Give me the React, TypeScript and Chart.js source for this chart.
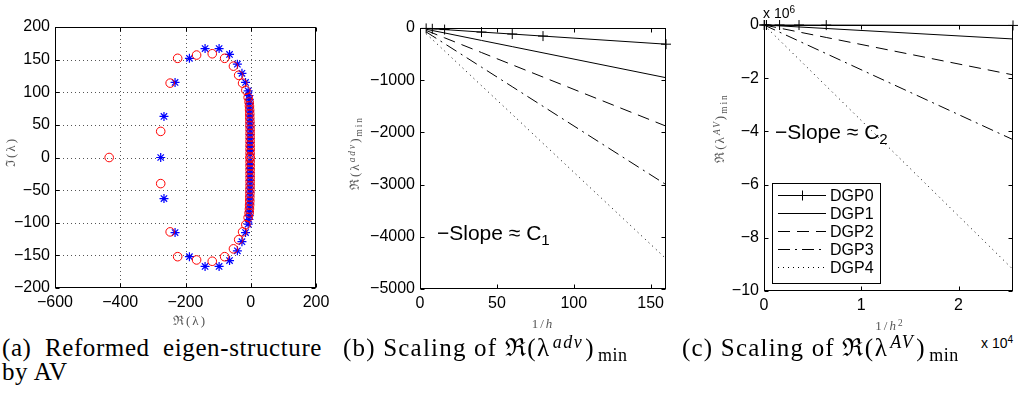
import React, { useEffect, useRef } from "react";
import { Chart, registerables } from "chart.js";

Chart.register(...registerables);

const SANS = "'Liberation Sans', Arial, Helvetica, sans-serif";
const SERIF = "'Liberation Serif', 'Times New Roman', serif";

// ---------- Panel (a): eigenvalues reformed by AV ----------
const aCircleRe = [
  -434, -276, -276, -247, -247, -224, -224, -166, -166, -118, -118, -80, -80, -53, -53,
  -37, -37, -25, -25, -15, -15, -8, -8,
  -5, -5, -4, -4, -3.5, -3.5, -3, -3, -3, -3, -2.5, -2.5, -2.5, -2.5,
  -2, -2, -2, -2, -2, -2, -2, -2, -2, -2, -2, -2, -2, -2, -2, -2,
];
const aCircleIm = [
  0, 40, -40, 114, -114, 152, -152, 157, -157, 159, -159, 152, -152, 140, -140,
  126, -126, 114, -114, 103, -103, 92, -92,
  85, -85, 79, -79, 73, -73, 67, -67, 61, -61, 55, -55, 49, -49,
  43, -43, 37, -37, 31, -31, 25, -25, 19, -19, 13, -13, 7, -7, 1, -1,
];
const aStarRe = [
  -276, -266, -266, -232, -232, -188, -188, -140, -140, -97, -97, -65, -65, -41, -41,
  -27, -27, -16, -16, -8, -8,
  -5.5, -5.5, -4.5, -4.5, -4, -4, -3.5, -3.5, -3, -3, -3, -3, -2.5, -2.5, -2.5, -2.5,
  -2, -2, -2, -2, -2, -2, -2, -2, -2, -2, -2, -2, -2, -2, -2, -2,
];
const aStarIm = [
  0, 63, -63, 115, -115, 152, -152, 167, -167, 167, -167, 158, -158, 143, -143,
  129, -129, 115, -115, 102, -102,
  95, -95, 89, -89, 83, -83, 77, -77, 71, -71, 65, -65, 59, -59, 53, -53,
  47, -47, 41, -41, 35, -35, 29, -29, 23, -23, 17, -17, 11, -11, 5, -5,
];
const aTicksX = [-600, -400, -200, 0, 200];
const aTicksY = [-200, -150, -100, -50, 0, 50, 100, 150, 200];

// ---------- Panel (b): Re(lambda^adv)_min vs 1/h ----------
const invH = [4, 8, 16, 40, 60, 80, 160];
const bDGP0 = [-8, -15, -30, -78, -116, -155, -310];
const bDGP1 = [-24, -48, -95, -238, -357, -476, -952];
const bDGP2 = [-47, -94, -188, -470, -705, -940, -1880];
const bDGP3 = [-75, -150, -300, -750, -1125, -1500, -3000];
const bDGP4 = [-110, -220, -440, -1105, -1655, -2210, -4420];
const bTicksX = [0, 50, 100, 150];
const bTicksY = [-5000, -4000, -3000, -2000, -1000, 0];

// ---------- Panel (c): Re(lambda^AV)_min vs 1/h^2 ----------
const invH2 = [16, 64, 256, 1600, 3600, 6400, 25600];
const cDGP0 = [-10, -40, -160, -1000, -2300, -4000, -16000];
const cDGP1 = [-330, -1310, -5250, -32800, -73800, -131000, -525000];
const cDGP2 = [-1170, -4690, -18750, -117000, -264000, -469000, -1875000];
const cDGP3 = [-2690, -10800, -43100, -269000, -606000, -1077000, -4310000];
const cDGP4 = [-5740, -23000, -91900, -574000, -1292000, -2297000, -9190000];
const cTicksX = [0, 10000, 20000];
const cTicksY = [-10000000, -8000000, -6000000, -4000000, -2000000, 0];

const seriesNames = ["DGP0", "DGP1", "DGP2", "DGP3", "DGP4"];
const seriesDash = [[], [], [12, 7], [12, 5, 2, 5], [1, 4]];
const seriesMarker = ["cross", false, false, false, false];

const minus = (s: string) => s.replace(/-/g, "\u2212");

const matlabFrame = {
  id: "matlabFrame",
  beforeDatasetsDraw(chart: any, _args: any, opts: any) {
    if (!opts || !opts.grid) return;
    const { ctx, chartArea: a, scales } = chart;
    const x = scales.x, y = scales.y;
    ctx.save();
    ctx.strokeStyle = "#555";
    ctx.lineWidth = 1;
    ctx.setLineDash([1, 3]);
    for (const t of x.ticks) {
      const px = Math.round(x.getPixelForValue(t.value)) + 0.5;
      if (px <= a.left + 2 || px >= a.right - 2) continue;
      ctx.beginPath();
      ctx.moveTo(px, a.top);
      ctx.lineTo(px, a.bottom);
      ctx.stroke();
    }
    for (const t of y.ticks) {
      const py = Math.round(y.getPixelForValue(t.value)) + 0.5;
      if (py <= a.top + 2 || py >= a.bottom - 2) continue;
      ctx.beginPath();
      ctx.moveTo(a.left, py);
      ctx.lineTo(a.right, py);
      ctx.stroke();
    }
    ctx.restore();
  },
  afterDraw(chart: any) {
    const { ctx, chartArea: a, scales } = chart;
    const x = scales.x, y = scales.y;
    const L = Math.round(a.left) + 0.5, R = Math.round(a.right) - 0.5;
    const T = Math.round(a.top) + 0.5, B = Math.round(a.bottom) - 0.5;
    ctx.save();
    ctx.strokeStyle = "#000";
    ctx.lineWidth = 1;
    ctx.setLineDash([]);
    ctx.strokeRect(L, T, R - L, B - T);
    const tl = 4;
    ctx.beginPath();
    for (const t of x.ticks) {
      const px = Math.round(x.getPixelForValue(t.value)) + 0.5;
      ctx.moveTo(px, B);
      ctx.lineTo(px, B - tl);
      ctx.moveTo(px, T);
      ctx.lineTo(px, T + tl);
    }
    for (const t of y.ticks) {
      const py = Math.round(y.getPixelForValue(t.value)) + 0.5;
      ctx.moveTo(L, py);
      ctx.lineTo(L + tl, py);
      ctx.moveTo(R, py);
      ctx.lineTo(R - tl, py);
    }
    ctx.stroke();
    ctx.restore();
  },
};

const boxLegend = {
  id: "boxLegend",
  afterDraw(chart: any, _args: any, opts: any) {
    if (!opts || !opts.show) return;
    const { ctx } = chart;
    const left = opts.left, top = opts.top, w = opts.width, h = opts.height;
    ctx.save();
    ctx.fillStyle = "#fff";
    ctx.fillRect(left, top, w, h);
    ctx.strokeStyle = "#000";
    ctx.lineWidth = 1;
    ctx.setLineDash([]);
    ctx.strokeRect(left + 0.5, top + 0.5, w, h);
    ctx.font = `16px ${SANS}`;
    ctx.textBaseline = "middle";
    ctx.fillStyle = "#000";
    chart.data.datasets.forEach((ds: any, i: number) => {
      const cy = Math.round(top + opts.firstRow + i * opts.rowHeight) + 0.5;
      const x0 = left + 6, x1 = left + 54;
      ctx.strokeStyle = "#000";
      ctx.lineWidth = 1;
      ctx.setLineDash(ds.borderDash || []);
      ctx.beginPath();
      ctx.moveTo(x0, cy);
      ctx.lineTo(x1, cy);
      ctx.stroke();
      ctx.setLineDash([]);
      if (ds.pointStyle === "cross") {
        const cx = Math.round((x0 + x1) / 2) + 0.5;
        ctx.beginPath();
        ctx.moveTo(cx - 5, cy);
        ctx.lineTo(cx + 5, cy);
        ctx.moveTo(cx, cy - 5);
        ctx.lineTo(cx, cy + 5);
        ctx.stroke();
      }
      ctx.fillText(ds.label, left + 58, cy + 1);
    });
    ctx.restore();
  },
};

function axis(min: number, max: number, tickVals: number[], size: number, fmt: (v: number) => string) {
  return {
    type: "linear",
    min,
    max,
    grid: { display: false, drawTicks: false },
    border: { display: false },
    afterBuildTicks: (s: any) => {
      s.ticks = tickVals.map((v) => ({ value: v }));
    },
    afterFit: (s: any) => {
      if (s.isHorizontal()) s.height = size;
      else s.width = size;
    },
    ticks: {
      font: { family: SANS, size: 16 },
      color: "#000",
      padding: 5,
      maxRotation: 0,
      autoSkip: false,
      callback: (v: any) => fmt(Number(v)),
    },
  };
}

function seriesSets(xs: number[], ys: number[][]) {
  return ys.map((vals, i) => ({
    label: seriesNames[i],
    data: xs.map((x, j) => ({ x, y: vals[j] })),
    showLine: true,
    borderColor: "#000",
    borderWidth: 1,
    borderDash: seriesDash[i],
    pointStyle: seriesMarker[i] || "circle",
    pointRadius: seriesMarker[i] ? 5 : 0,
    pointBorderColor: "#000",
    pointBorderWidth: 1,
    backgroundColor: "#000",
    tension: 0,
    clip: false,
  }));
}

function ChartCanvas({ config, left, top, width, height }: any) {
  const ref = useRef<HTMLCanvasElement>(null);
  useEffect(() => {
    const chart = new Chart(ref.current as HTMLCanvasElement, config);
    return () => chart.destroy();
  }, []);
  return (
    <canvas
      ref={ref}
      width={width}
      height={height}
      style={{ position: "absolute", left, top, width, height }}
    />
  );
}

const baseOptions = (padding: any, scales: any, plugins: any) => ({
  responsive: false,
  animation: false,
  devicePixelRatio: 1,
  layout: { padding },
  scales,
  plugins: {
    legend: { display: false },
    tooltip: { enabled: false },
    ...plugins,
  },
});

const configA = {
  type: "scatter",
  data: {
    datasets: [
      {
        label: "circles",
        data: aCircleRe.map((x, i) => ({ x, y: aCircleIm[i] })),
        pointStyle: "circle",
        pointRadius: 4.3,
        pointBorderColor: "#ff0000",
        pointBackgroundColor: "rgba(0,0,0,0)",
        pointBorderWidth: 1,
      },
      {
        label: "stars",
        data: aStarRe.map((x, i) => ({ x, y: aStarIm[i] })),
        pointStyle: "star",
        pointRadius: 4.5,
        pointBorderColor: "#0000ff",
        pointBackgroundColor: "rgba(0,0,0,0)",
        pointBorderWidth: 1.2,
      },
    ],
  },
  options: baseOptions(
    { left: 0, top: 27, right: 24, bottom: 0 },
    {
      x: axis(-600, 200, aTicksX, 42, (v) => minus(String(v))),
      y: axis(-200, 200, aTicksY, 55, (v) => minus(String(v))),
    },
    { matlabFrame: { grid: true } }
  ),
  plugins: [matlabFrame],
};

const configB = {
  type: "scatter",
  data: { datasets: seriesSets(invH, [bDGP0, bDGP1, bDGP2, bDGP3, bDGP4]) },
  options: baseOptions(
    { left: 0, top: 28, right: 14, bottom: 0 },
    {
      x: axis(0, 160, bTicksX, 41, (v) => minus(String(v))),
      y: axis(-5000, 0, bTicksY, 80, (v) => minus(String(v))),
    },
    { matlabFrame: { grid: false } }
  ),
  plugins: [matlabFrame],
};

const configC = {
  type: "scatter",
  data: { datasets: seriesSets(invH2, [cDGP0, cDGP1, cDGP2, cDGP3, cDGP4]) },
  options: baseOptions(
    { left: 0, top: 25, right: 3, bottom: 0 },
    {
      x: axis(0, 25600, cTicksX, 39, (v) => minus(String(v / 10000))),
      y: axis(-10000000, 0, cTicksY, 84, (v) => minus(String(v / 1000000))),
    },
    {
      matlabFrame: { grid: false },
      boxLegend: { show: true, left: 92, top: 183, width: 108, height: 100, firstRow: 11.5, rowHeight: 18 },
    }
  ),
  plugins: [matlabFrame, boxLegend],
};

const abs = (extra: any): any => ({ position: "absolute", whiteSpace: "nowrap", ...extra });

const axisTitle: any = { fontFamily: SERIF, fontSize: 13, color: "#555", letterSpacing: "2px", lineHeight: "14px" };

function VTitle({ cx, cy, children }: any) {
  return (
    <div style={abs({ left: cx, top: cy, transform: "translate(-50%, -50%) rotate(-90deg)", ...axisTitle })}>
      {children}
    </div>
  );
}
function HTitle({ cx, cy, children }: any) {
  return (
    <div style={abs({ left: cx, top: cy, transform: "translate(-50%, -50%)", ...axisTitle })}>{children}</div>
  );
}

const supS: any = { fontSize: "0.72em", verticalAlign: "0.45em", lineHeight: 0 };
const subS: any = { fontSize: "0.72em", verticalAlign: "-0.3em", lineHeight: 0 };
const capFont: any = { fontFamily: SERIF, fontSize: 25, lineHeight: "24px", color: "#000", letterSpacing: "0.6px" };
const capFontWide: any = { ...capFont, letterSpacing: "1.2px" };
const mathS: any = { letterSpacing: "1.5px" };
const capSup: any = { ...supS, marginLeft: 2, marginRight: 2 };
const capSub: any = { ...subS, marginLeft: 3, letterSpacing: "0.5px" };

export default function App() {
  return (
    <div style={{ position: "absolute", left: 0, top: 0, width: 1019, height: 403, overflow: "hidden", background: "#fff" }}>
      <ChartCanvas config={configA} left={0} top={0} width={340} height={330} />
      <ChartCanvas config={configB} left={340} top={0} width={340} height={330} />
      <ChartCanvas config={configC} left={680} top={0} width={339} height={330} />

      <VTitle cx={11} cy={152}>ℑ(λ)</VTitle>
      <HTitle cx={190} cy={321}>ℜ(λ)</HTitle>

      <VTitle cx={355} cy={153}>
        ℜ(λ<span style={supS}><i>adv</i></span>)<span style={subS}>min</span>
      </VTitle>
      <HTitle cx={543} cy={324}>
        1/<i>h</i>
      </HTitle>

      <VTitle cx={720} cy={128}>
        ℜ(λ<span style={supS}><i>AV</i></span>)<span style={subS}>min</span>
      </VTitle>
      <HTitle cx={890} cy={326}>
        1/<i>h</i><span style={supS}>2</span>
      </HTitle>

      <div style={abs({ left: 763, top: 6, fontFamily: SANS, fontSize: 14, lineHeight: "14px" })}>
        x 10<span style={supS}>6</span>
      </div>
      <div style={abs({ left: 981, top: 336, fontFamily: SANS, fontSize: 14, lineHeight: "14px" })}>
        x 10<span style={supS}>4</span>
      </div>

      <div style={abs({ left: 437, top: 222, fontFamily: SANS, fontSize: 21, lineHeight: "21px" })}>
        −Slope ≈ C<span style={{ fontSize: "0.72em", verticalAlign: "-0.35em", lineHeight: 0 }}>1</span>
      </div>
      <div style={abs({ left: 775, top: 121, fontFamily: SANS, fontSize: 21, lineHeight: "21px" })}>
        −Slope ≈ C<span style={{ fontSize: "0.72em", verticalAlign: "-0.35em", lineHeight: 0 }}>2</span>
      </div>

      <div style={{ position: "absolute", left: 2, top: 336, width: 320, textAlign: "justify", ...capFont }}>
        (a) Reformed eigen-structure by AV
      </div>
      <div style={abs({ left: 343, top: 336, ...capFontWide })}>
        (b) Scaling of <span style={mathS}>ℜ(λ<span style={capSup}><i>adv</i></span>)<span style={capSub}>min</span></span>
      </div>
      <div style={abs({ left: 682, top: 336, ...capFontWide })}>
        (c) Scaling of <span style={mathS}>ℜ(λ<span style={capSup}><i>AV</i></span>)<span style={capSub}>min</span></span>
      </div>
    </div>
  );
}
